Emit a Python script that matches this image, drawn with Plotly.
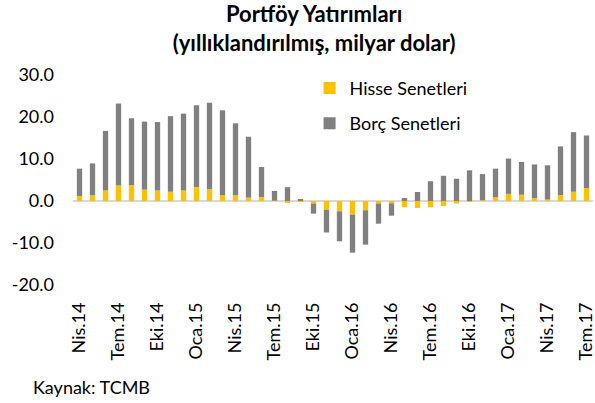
import plotly.graph_objects as go

months = ["Nis.14","May.14","Haz.14","Tem.14","Ağu.14","Eyl.14","Eki.14","Kas.14","Ara.14",
          "Oca.15","Şub.15","Mar.15","Nis.15","May.15","Haz.15","Tem.15","Ağu.15","Eyl.15",
          "Eki.15","Kas.15","Ara.15","Oca.16","Şub.16","Mar.16","Nis.16","May.16","Haz.16",
          "Tem.16","Ağu.16","Eyl.16","Eki.16","Kas.16","Ara.16","Oca.17","Şub.17","Mar.17",
          "Nis.17","May.17","Haz.17","Tem.17"]

hisse = [1.2, 1.35, 2.5, 3.7, 3.8, 2.7, 2.5, 2.2, 2.5,
         3.3, 2.8, 1.35, 1.35, 0.8, 0.95, 0.1, -0.4, -0.1,
         -0.6, -2.05, -2.45, -3.25, -2.2, -0.6, -0.55, -1.5, -1.65,
         -1.5, -1.2, -0.6, -0.2, 0.2, 0.9, 1.7, 1.5, 0.7,
         0.4, 1.4, 2.2, 3.1]

borc = [6.5, 7.6, 14.2, 19.5, 15.9, 16.2, 16.3, 18.0, 18.3,
        19.5, 20.6, 20.25, 17.15, 14.5, 7.15, 2.3, 3.3, 0.3,
        -2.4, -5.45, -7.15, -9.05, -8.2, -4.8, -2.95, 0.7, 2.15,
        4.7, 6.0, 5.3, 7.3, 6.2, 6.8, 8.4, 7.8, 8.0,
        8.1, 11.6, 14.2, 12.5]

tick_labels = months[::3]
y_ticks = [30, 20, 10, 0, -10, -20]
y_tick_text = ["30.0", "20.0", "10.0", "0.0", "-10.0", "-20.0"]

FONT = "Lato"

fig = go.Figure()
fig.add_trace(go.Bar(x=months, y=hisse, name="Hisse Senetleri",
                     marker=dict(color="#FFC000", line=dict(width=0)), legendgroup="a"))
fig.add_trace(go.Bar(x=months, y=borc, name="Borç Senetleri",
                     marker=dict(color="#808080", line=dict(width=0)), legendgroup="b"))

fig.update_layout(
    width=595, height=403,
    barmode="relative", bargap=0.59,
    paper_bgcolor="white", plot_bgcolor="white",
    margin=dict(l=73, r=2, t=75, b=118, autoexpand=False),
    font=dict(family=FONT, size=18, color="#000000"),
    title=dict(text="<b>Portföy Yatırımları<br>(yıllıklandırılmış, milyar dolar)</b>",
               x=0.528, xanchor="center", y=0.945, yanchor="top",
               font=dict(family=FONT, size=22, color="#000000")),
    legend=dict(x=0.455, y=1.025, xanchor="left", yanchor="top",
                bgcolor="rgba(0,0,0,0)", traceorder="grouped", tracegroupgap=9,
                font=dict(family=FONT, size=18, color="#000000"), itemwidth=30),
    xaxis=dict(type="category", tickmode="array", tickvals=tick_labels, ticktext=tick_labels,
               tickangle=-90, showgrid=False, showline=False, ticks="", ticklabelstandoff=13,
               tickfont=dict(family=FONT, size=18, color="#000000")),
    yaxis=dict(range=[-20, 30], tickmode="array", tickvals=y_ticks, ticktext=y_tick_text,
               showgrid=False, zeroline=True, zerolinecolor="#D9D9D9", zerolinewidth=2,
               showline=False, ticks="", ticklabelstandoff=18,
               tickfont=dict(family=FONT, size=18, color="#000000")),
    annotations=[dict(text="Kaynak: TCMB", xref="paper", yref="paper",
                      x=-0.08, y=-0.486, xanchor="left", yanchor="middle", showarrow=False,
                      font=dict(family=FONT, size=18, color="#000000"))],
)

fig.write_html("out.html", config={"displayModeBar": False},
               post_script="document.body.style.margin='0';")
